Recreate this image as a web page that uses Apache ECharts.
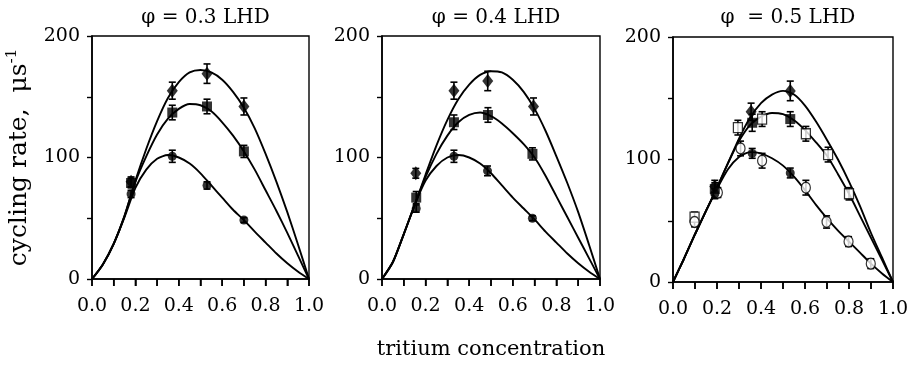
<!DOCTYPE html>
<html><head><meta charset="utf-8">
<script src="https://cdn.jsdelivr.net/npm/echarts@6/dist/echarts.min.js"></script>
<style>html,body{margin:0;padding:0;background:#fff}#c{width:920px;height:367px}</style>
</head><body><div id="c"></div>
<script>
// ---- data ----
const panelTitles = ['\u03C6 = 0.3 LHD', '\u03C6 = 0.4 LHD', '\u03C6  = 0.5 LHD'];
const curveX = [0,0.05,0.1,0.15,0.2,0.25,0.3,0.35,0.4,0.45,0.5,0.55,0.6,0.65,0.7,0.75,0.8,0.85,0.9,0.95,1];
const xTickValues = [0,0.1,0.2,0.3,0.4,0.5,0.6,0.7,0.8,0.9,1];
const xLabelValues = [0,0.2,0.4,0.6,0.8,1];
// fitted curves
const p1High = [0,12,29,52,81,107,130,149,162,170,172,170,164,154,141,124,103,80,55,28,0];
const p1Mid  = [0,12,29,52,80,101,119,132,140,144,143,138,129,118,105,90,73,56,38,19,0];
const p1Low  = [0,12,29,51,75,90,99,102,100,95,87,77,67,57,48.5,39,30,21,13,6,0];
const p2High = [0,14,37,61,86,110,131,148,160,168,171,170,164,154,140,122,101,79,55,28,0];
const p2Mid  = [0,14,37,61,84,103,118,129,135,137,134,128,120,111,100,85,68,51,34,17,0];
const p2Low  = [0,14,37,61,81,93,100,102,100,95,87,77,67,58,49,39,30,21,13,6,0];
const p3High = [0,19,39,58,77,97,117,134,146,153,156,153,144,131,116,100,82,62,40,20,0];
const p3Mid  = [0,19,39,58,77,97,115,128,135,138,137,132,124,114,103,88,72,54,36,18,0];
const p3Low  = [0,19,39,58,76,92,102,106,105,101,95,86,75,63,52,42,33,24,15,7,0];
// measured points: x, y, error
const p1DiaX = [0.18,0.37,0.53,0.70], p1DiaY = [80,155,169,142], p1DiaE = [4,7,8,7];
const p1SqX  = [0.18,0.37,0.53,0.70], p1SqY  = [79,137,142,105], p1SqE  = [4,6,6,5];
const p1CirX = [0.18,0.37,0.53,0.70], p1CirY = [70,101,77,48.5], p1CirE = [3,5,3,2];
const p2DiaX = [0.155,0.33,0.485,0.695], p2DiaY = [87,155,163,142], p2DiaE = [4,7,8,7];
const p2SqX  = [0.157,0.33,0.486,0.69], p2SqY  = [67,129,135,103], p2SqE  = [5,6,6,5];
const p2CirX = [0.157,0.33,0.484,0.69], p2CirY = [58,101,89,50], p2CirE = [3,5,4,2];
const p3DiaX = [0.19,0.355,0.533], p3DiaY = [78,139,156], p3DiaE = [5,7,8];
const p3SqX  = [0.19,0.36,0.533], p3SqY  = [76,130,133], p3SqE  = [5,7,6];
const p3CirX = [0.19,0.36,0.533], p3CirY = [72,105,89], p3CirE = [4,4,4];
const p3OSqX = [0.098,0.295,0.405,0.604,0.705,0.80], p3OSqY = [53,126,133,121,104,72], p3OSqE = [4,6,6,6,6,5];
const p3OCiX = [0.098,0.204,0.307,0.405,0.604,0.698,0.798,0.899], p3OCiY = [49,73,109,99,77,49,33,15], p3OCiE = [4,4,6,6,6,5,4,4];

// ---- build ----
const FONT = 'DejaVu Serif';
const grids = [
  {left:92, top:36, width:217, height:243},
  {left:382, top:36, width:218, height:243},
  {left:673, top:37, width:220, height:245}
];
const zip = (xs, ys, es) => xs.map((x,i)=> es ? [x, ys[i], es[i]] : [x, ys[i]]);
const series = [];
function curve(g, ys){
  series.push({type:'line', xAxisIndex:g, yAxisIndex:g, data: zip(curveX, ys), smooth:0.25, showSymbol:false,
    lineStyle:{color:'#000', width:1.9}, z:2, silent:true});
}
function errbar(g, xs, ys, es){
  series.push({type:'custom', xAxisIndex:g, yAxisIndex:g, data: zip(xs, ys, es), encode:{x:0,y:1}, z:3, silent:true,
    renderItem: function(params, api){
      const x=api.value(0), y=api.value(1), e=api.value(2);
      const t=api.coord([x,y+e]), b=api.coord([x,y-e]); const w=3.5;
      const st={stroke:'#000', lineWidth:1.6};
      return {type:'group', children:[
        {type:'line', shape:{x1:t[0],y1:t[1],x2:b[0],y2:b[1]}, style:st},
        {type:'line', shape:{x1:t[0]-w,y1:t[1],x2:t[0]+w,y2:t[1]}, style:st},
        {type:'line', shape:{x1:b[0]-w,y1:b[1],x2:b[0]+w,y2:b[1]}, style:st}
      ]};
    }});
}
// x-axis tick marks, placed through the axis scale at the tick values
function xticks(g){
  series.push({type:'custom', xAxisIndex:g, yAxisIndex:g, data: xTickValues.map(v=>[v,0]), encode:{x:0,y:1},
    clip:false, z:5, silent:true,
    renderItem: function(params, api){
      const p = api.coord([api.value(0), api.value(1)]);
      return {type:'line', shape:{x1:p[0], y1:p[1], x2:p[0], y2:p[1]+7}, style:{stroke:'#000', lineWidth:1.5}};
    }});
}
function pts(g, xs, ys, symbol, size, open){
  series.push({type:'scatter', xAxisIndex:g, yAxisIndex:g, data: zip(xs, ys), symbol:symbol, symbolSize:size, z:4, silent:true,
    itemStyle: open ? {color:'#fff', borderColor:'#000', borderWidth:1.3} : {color:'#000'}});
}
const DIA='diamond', SQ='rect', CI='circle';
[[p1High,p1Mid,p1Low],[p2High,p2Mid,p2Low],[p3High,p3Mid,p3Low]].forEach((cs,g)=>cs.forEach(c=>curve(g,c)));
const sets = [
  [0,p1DiaX,p1DiaY,p1DiaE,DIA,[11,14],false],[0,p1SqX,p1SqY,p1SqE,SQ,10,false],[0,p1CirX,p1CirY,p1CirE,CI,9,false],
  [1,p2DiaX,p2DiaY,p2DiaE,DIA,[11,14],false],[1,p2SqX,p2SqY,p2SqE,SQ,10,false],[1,p2CirX,p2CirY,p2CirE,CI,9,false],
  [2,p3OSqX,p3OSqY,p3OSqE,SQ,[9,10],true],[2,p3OCiX,p3OCiY,p3OCiE,CI,[9,11],true],
  [2,p3DiaX,p3DiaY,p3DiaE,DIA,[11,14],false],[2,p3SqX,p3SqY,p3SqE,SQ,10,false],[2,p3CirX,p3CirY,p3CirE,CI,9,false]
];
sets.forEach(s=>{ errbar(s[0],s[1],s[2],s[3]); });
sets.forEach(s=>{ pts(s[0],s[1],s[2],s[4],s[5],s[6]); });
[0,1,2].forEach(xticks);

const xAxes = grids.map((g,i)=>({type:'value', gridIndex:i, min:0, max:1,
  axisLine:{show:true, lineStyle:{color:'#000', width:1.6}},
  axisTick:{show:true, customValues:xTickValues, length:7, lineStyle:{color:'#000', width:1.5}},
  splitLine:{show:false},
  axisLabel:{show:true, customValues:xLabelValues, color:'#000', fontFamily:FONT, fontSize:19, margin:18,
    formatter: v => v.toFixed(1)},
  name: i===1 ? 'tritium concentration' : '', nameLocation:'middle', nameGap:60,
  nameTextStyle:{color:'#000', fontFamily:FONT, fontSize:21}
}));
const yAxes = grids.map((g,i)=>({type:'value', gridIndex:i, min:0, max:200, interval:50,
  axisLine:{show:true, lineStyle:{color:'#000', width:1.6}},
  axisTick:{show:true, length:5, lineStyle:{color:'#000', width:1.4}},
  splitLine:{show:false},
  axisLabel:{show:true, color:'#000', fontFamily:FONT, fontSize:19, margin:12,
    formatter: v => (v%100===0) ? String(v) : ''},
  name: i===0 ? 'cycling rate,  \u03BCs{sup|-1}' : '', nameLocation:'middle', nameGap:58, nameRotate:90,
  nameTextStyle:{color:'#000', fontFamily:FONT, fontSize:25,
    rich:{sup:{fontFamily:FONT, fontSize:15, verticalAlign:'top', padding:[0,0,14,0], color:'#000'}}}
}));
const titles = panelTitles.map((t,i)=>({text:t, left: grids[i].left + grids[i].width/2, top:3, textAlign:'center',
  textStyle:{color:'#000', fontFamily:FONT, fontSize:20, fontWeight:'normal'}}));

const chart = echarts.init(document.getElementById('c'));
chart.setOption({
  animation:false, backgroundColor:'#fff',
  title: titles,
  grid: grids.map(g=>Object.assign({show:true, borderColor:'#000', borderWidth:1.4, outerBoundsMode:'none'}, g)),
  xAxis: xAxes, yAxis: yAxes, series: series
});
</script></body></html>
